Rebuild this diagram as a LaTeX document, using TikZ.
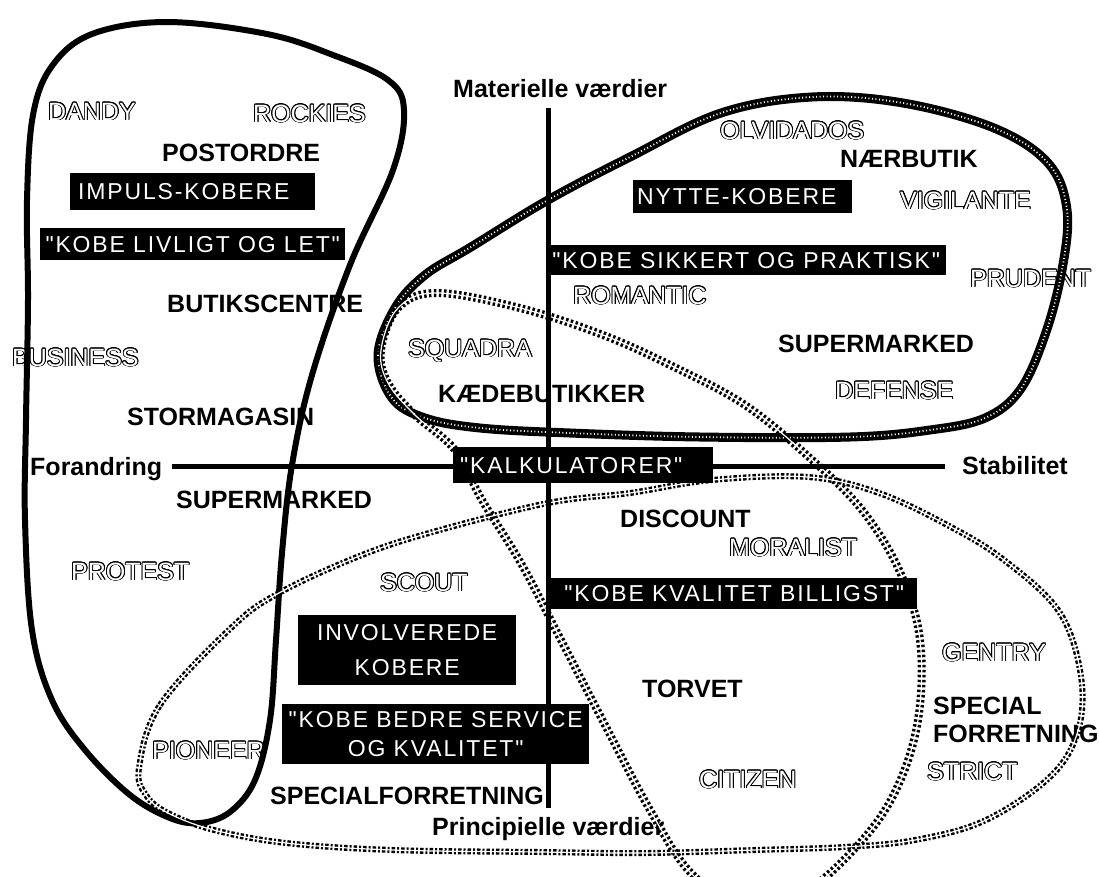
\documentclass[tikz,border=0pt]{standalone}
\usepackage{fontspec}
\setmainfont{Liberation Sans}
\newfontfamily\boxfont[LetterSpace=8]{Liberation Sans}
\usepackage[copies]{contour}
\contourlength{0.9pt}
\newcommand{\hollow}[1]{{\color{white}\contour{black}{#1}}}
\begin{document}
\begin{tikzpicture}[x=1pt,y=-1pt,
  lbl/.style={font=\fontsize{25}{28}\selectfont\bfseries, inner sep=0pt, text height=18pt, text depth=0pt, anchor=west},
  hol/.style={font=\fontsize{25}{28}\selectfont, inner sep=0pt, text height=18pt, text depth=0pt, anchor=west},
  blk/.style={fill=black, text=white, font=\boxfont\fontsize{23}{27}\selectfont, inner ysep=0pt, anchor=north west, text height=16.5pt, text depth=0pt},
  blktwo/.style={fill=black, text=white, inner ysep=0pt, anchor=north west, align=center},
  axisline/.style={line width=5pt},
  solidloop/.style={line width=6pt, line join=round},
  rope/.style={line width=9pt, postaction={draw=white, line width=1.8pt, dash pattern=on 1pt off 2.5pt}},
  hatch/.style={line width=8pt, dash pattern=on 2.5pt off 2.5pt, postaction={draw=white, line width=1.2pt, solid}},
  dotty/.style={line width=6pt, dash pattern=on 3.5pt off 2pt on 2pt off 2pt, postaction={draw=white, line width=1.2pt, solid}}
]
\path[use as bounding box] (0,0) rectangle (1099,876);
\fill[white] (0,0) rectangle (1099,876);
\clip (0,0) rectangle (1099,876);

% ---- plain labels ----
\node[lbl] (mat) at (453,88) {Materielle værdier};
\node[lbl] (pri) at (432,826) {Principielle værdier};
\node[lbl] (for) at (30,466) {Forandring};
\node[lbl] (sta) at (962,465) {Stabilitet};
\node[lbl] (post) at (162,152) {POSTORDRE};
\node[lbl] (butik) at (167,303) {BUTIKSCENTRE};
\node[lbl] (storm) at (127,416) {STORMAGASIN};
\node[lbl] (superl) at (176,499) {SUPERMARKED};
\node[lbl] (naer) at (840,158) {NÆRBUTIK};
\node[lbl] (superr) at (778,343) {SUPERMARKED};
\node[lbl] (kaede) at (438,393) {KÆDEBUTIKKER};
\node[lbl] (disc) at (620,518) {DISCOUNT};
\node[lbl] (torv) at (642,688) {TORVET};
\node[lbl] (spec1) at (933,705) {SPECIAL};
\node[lbl] (spec2) at (933,733) {FORRETNING};
\node[lbl] (specl) at (270,795) {SPECIALFORRETNING};

% ---- hollow labels ----
\node[hol] (dandy) at (48,111) {\hollow{DANDY}};
\node[hol] (rock) at (253,113) {\hollow{ROCKIES}};
\node[hol] (busi) at (12,357) {\hollow{BUSINESS}};
\node[hol] (prot) at (71,571) {\hollow{PROTEST}};
\node[hol] (scout) at (380,582) {\hollow{SCOUT}};
\node[hol] (pion) at (152,750) {\hollow{PIONEER}};
\node[hol] (olvi) at (720,130) {\hollow{OLVIDADOS}};
\node[hol] (vigi) at (900,200) {\hollow{VIGILANTE}};
\node[hol] (prud) at (970,278) {\hollow{PRUDENT}};
\node[hol] (roman) at (573,295) {\hollow{ROMANTIC}};
\node[hol] (squad) at (408,348) {\hollow{SQUADRA}};
\node[hol] (defe) at (835,390) {\hollow{DEFENSE}};
\node[hol] (moral) at (729,547) {\hollow{MORALIST}};
\node[hol] (gent) at (942,652) {\hollow{GENTRY}};
\node[hol] (stri) at (927,771) {\hollow{STRICT}};
\node[hol] (citi) at (699,779) {\hollow{CITIZEN}};

% ---- loops ----
\draw[solidloop] plot[smooth cycle, tension=0.6] coordinates {
 (28,300) (27,200) (33,115) (52,66) (92,34) (167,22) (267,34) (333,55) (388,80) (404,110)
 (393,170) (350,265) (312,375) (292,465) (282,553) (276,640) (270,720) (255,780) (230,812)
 (200,823) (170,818) (130,795) (85,750) (52,700) (32,630) (25,520) (26,420)};

\draw[rope] plot[smooth cycle, tension=0.6] coordinates {
 (378,355) (395,308) (425,275) (471,247) (548,200) (630,157) (721,113) (812,97) (903,103)
 (994,128) (1048,163) (1067,210) (1062,270) (1045,335) (1020,390) (985,418) (930,430)
 (850,437) (700,437) (570,433) (480,428) (425,418) (392,398)};

\draw[hatch] plot[smooth cycle, tension=0.6] coordinates {
 (381,350) (398,308) (437,293) (520,308) (603,335) (672,366) (745,405) (810,458) (862,510)
 (900,572) (920,640) (918,720) (896,790) (858,845) (800,895) (740,905) (690,872) (650,810)
 (605,725) (561,640) (522,565) (482,500) (455,450) (415,415) (388,383)};

\draw[dotty] plot[smooth cycle, tension=0.6] coordinates {
 (139,768) (160,705) (232,627) (279,593) (357,557) (429,533) (548,503) (630,493) (712,480)
 (808,477) (879,493) (951,527) (1004,560) (1058,610) (1080,670) (1079,727) (1052,775)
 (986,820) (915,840) (844,847) (754,850) (647,853) (540,852) (393,850) (286,843) (214,830)
 (168,813) (146,795)};

% ---- axes ----
\coordinate (vtop) at (548,108);
\coordinate (vbot) at (548,808);
\coordinate (hleft) at (172,466);
\coordinate (hright) at (945,466);
\draw[axisline] (vtop) -- (vbot);
\draw[axisline] (hleft) -- (hright);

% ---- black boxes ----
\node[blk, minimum width=245, minimum height=37, inner xsep=8pt, text width=229pt, align=left] (impuls) at (70,173) {IMPULS-KOBERE};
\node[blk, minimum width=305, minimum height=32] (livligt) at (40,228) {"KOBE LIVLIGT OG LET"};
\node[blk, minimum width=219, minimum height=33, inner xsep=4pt, text width=211pt, align=left] (nytte) at (633,180) {NYTTE-KOBERE};
\node[blk, minimum width=400, minimum height=30] (sikkert) at (546,245) {"KOBE SIKKERT OG PRAKTISK"};
\node[blk, minimum width=260, minimum height=36, inner xsep=7pt, text width=246pt, align=left] (kalk) at (453,447) {"KALKULATORER"};
\node[blk, minimum width=366, minimum height=31] (billig) at (551,578) {"KOBE KVALITET BILLIGST"};
\node[blktwo, minimum width=218, minimum height=70, font=\boxfont\fontsize{23}{35}\selectfont] (invol) at (298,615) {INVOLVEREDE\\KOBERE};
\node[blktwo, minimum width=307, minimum height=60, font=\boxfont\fontsize{23}{29}\selectfont] (bedre) at (282,704) {"KOBE BEDRE SERVICE\\OG KVALITET"};
\end{tikzpicture}
\end{document}
